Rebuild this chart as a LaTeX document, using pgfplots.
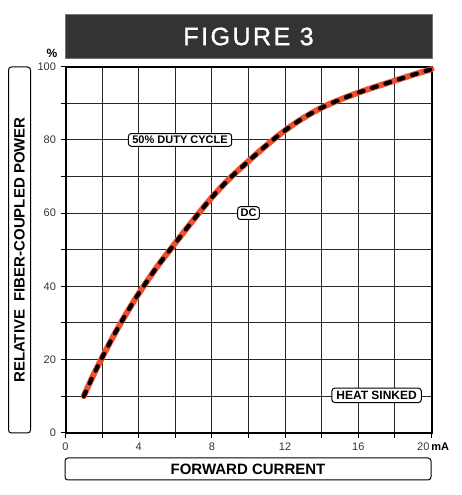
\documentclass[border=0pt]{standalone}
\usepackage{pgfplots}
\pgfplotsset{compat=1.18}
\usepackage{fontspec}
\setmainfont{Liberation Sans}
\newfontfamily\titlefont[LetterSpace=10,FakeBold=1.2]{Liberation Sans}
\definecolor{curvered}{RGB}{240,80,46}
\definecolor{titlebg}{RGB}{51,51,51}
\definecolor{gridgray}{RGB}{40,40,40}

\pgfplotstableread{
x y
1 10
1.5 15.5
2 20.5
2.5 25.3
3 29.8
3.5 34
4 38
5 45.3
6 51.8
7 58.2
8 64.3
9 69.6
10 74.2
11 78.6
12 82.6
13 86
14 88.8
15 91
16 92.9
17 94.6
18 96.2
19 97.8
20 99.3
}\dcdata

\begin{document}
\begin{tikzpicture}[x=1pt,y=1pt]
\path[use as bounding box] (0,0) rectangle (462,495);
\begin{axis}[
    at={(65.5pt,62.3pt)}, anchor=south west,
    scale only axis, width=366pt, height=366pt,
    xmin=0, xmax=20, ymin=0, ymax=100,
    xtick={0,4,...,20}, ytick={0,20,...,100},
    xticklabels={0,4,8,12,16,},
    minor xtick={2,6,...,18}, minor ytick={10,30,...,90},
    grid=both,
    major grid style={gridgray, line width=1.1pt},
    minor grid style={gridgray, line width=1.1pt},
    axis line style={black, line width=2pt},
    tick align=outside,
    major tick length=5pt, minor tick length=5pt,
    tick style={black, line width=1pt},
    xticklabel style={font=\fontsize{11}{12}\selectfont, text=black!80, yshift=-2pt},
    yticklabel style={font=\fontsize{11}{12}\selectfont, text=black!80, xshift=-1pt},
    /pgf/number format/assume math mode=true,
    xtick pos=bottom, ytick pos=left,
    clip=false,
]
\addplot[curvered, line width=6pt, line cap=round, smooth, tension=0.6] table {\dcdata};
\addplot[black, line width=4.2pt, dash pattern=on 5pt off 9pt, line cap=round, smooth, tension=0.6] table {\dcdata};
\path (axis cs:6.26,80) node[draw, rounded corners=3pt, line width=1pt, fill=white, inner xsep=4pt, inner ysep=2.5pt, font=\bfseries\fontsize{11}{12}\selectfont] {50\% DUTY CYCLE};
\path (axis cs:10,60) node[draw, rounded corners=3pt, line width=1pt, fill=white, inner xsep=3pt, inner ysep=2.5pt, font=\bfseries\fontsize{11}{12}\selectfont] {DC};
\path (axis cs:17,10.2) node[draw, rounded corners=3pt, line width=1pt, fill=white, inner xsep=4.5pt, inner ysep=3pt, font=\bfseries\fontsize{12}{13}\selectfont] {HEAT SINKED};
\end{axis}
% title bar
\draw[fill=titlebg, draw=black!55, line width=0.8pt] (65,437) rectangle (432,481);
\node[text=white, font=\titlefont\fontsize{25}{28}\selectfont] at (248.5,458.5) {FIGURE 3};
% percent and 20 mA
\node[font=\fontsize{12}{13}\selectfont\bfseries] at (52,442) {\%};
\node[anchor=west, inner sep=0pt] at (417,48) {\fontsize{11}{12}\selectfont\textcolor{black!80}{20}\,\bfseries mA};
% y label box
\draw[rounded corners=3pt, line width=1pt] (8.5,62) rectangle (30.5,428);
\node[rotate=90, font=\bfseries\fontsize{15}{16}\selectfont] at (19.5,245) {RELATIVE\ \ FIBER-COUPLED POWER};
% x label box
\draw[rounded corners=3pt, line width=1pt] (65,15) rectangle (431,37);
\node[font=\bfseries\fontsize{15}{16}\selectfont] at (248,26) {FORWARD CURRENT};
\end{tikzpicture}
\end{document}
